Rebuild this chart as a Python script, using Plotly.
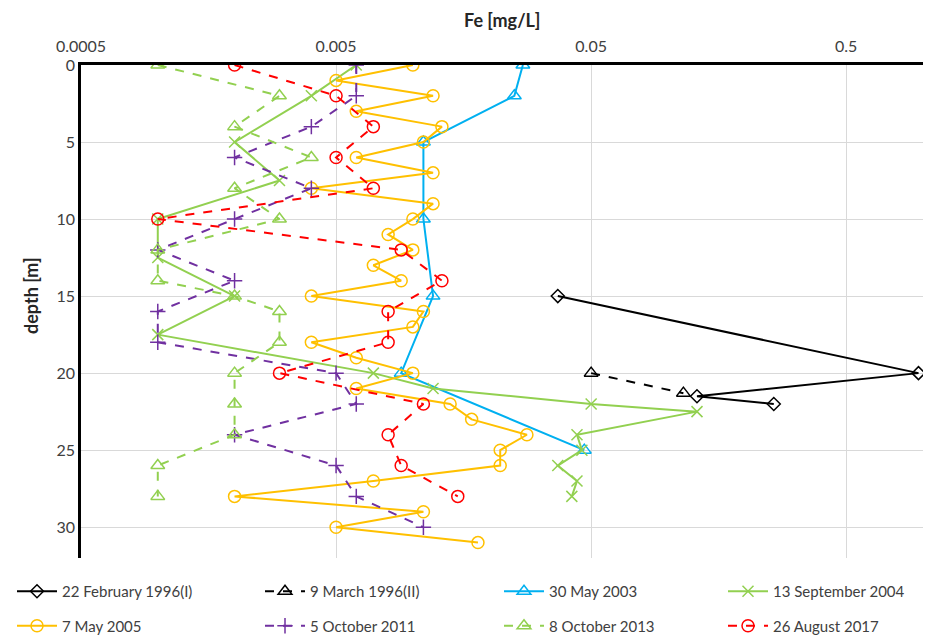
import plotly.graph_objects as go

# ---- data ----
feb1996_depth = [15, 20, 21.5, 22]
feb1996_fe = [0.037, 0.96, 0.13, 0.26]

mar1996_depth = [20, 21.3]
mar1996_fe = [0.05, 0.115]

may2003_depth = [0, 2, 5, 10, 15, 20, 25]
may2003_fe = [0.027, 0.025, 0.011, 0.011, 0.012, 0.009, 0.047]

sep2004_depth = [0, 2, 5, 7.5, 10, 12.5, 15, 17.5, 20, 21, 22, 22.5, 24, 25, 26, 27, 28]
sep2004_fe = [0.006, 0.004, 0.002, 0.003, 0.001, 0.001, 0.002, 0.001, 0.007, 0.012,
              0.05, 0.13, 0.044, 0.046, 0.037, 0.044, 0.042]

may2005_depth = list(range(0, 32))
may2005_fe = [0.01, 0.005, 0.012, 0.006, 0.013, 0.011, 0.006, 0.012, 0.004, 0.012,
              0.01, 0.008, 0.01, 0.007, 0.009, 0.004, 0.011, 0.01, 0.004, 0.006,
              0.01, 0.006, 0.014, 0.017, 0.028, 0.022, 0.022, 0.007, 0.002, 0.011,
              0.005, 0.018]

oct2011_depth = [0, 2, 4, 6, 8, 10, 12, 14, 16, 18, 20, 22, 24, 26, 28, 30]
oct2011_fe = [0.006, 0.006, 0.004, 0.002, 0.004, 0.002, 0.001, 0.002, 0.001, 0.001,
              0.005, 0.006, 0.002, 0.005, 0.006, 0.011]

oct2013_depth = [0, 2, 4, 6, 8, 10, 12, 14, 15, 16, 18, 20, 22, 24, 26, 28]
oct2013_fe = [0.001, 0.003, 0.002, 0.004, 0.002, 0.003, 0.001, 0.001, 0.002, 0.003,
              0.003, 0.002, 0.002, 0.002, 0.001, 0.001]

aug2017_depth = [0, 2, 4, 6, 8, 10, 12, 14, 16, 18, 20, 22, 24, 26, 28]
aug2017_fe = [0.002, 0.005, 0.007, 0.005, 0.007, 0.001, 0.009, 0.013, 0.008, 0.008,
              0.003, 0.011, 0.008, 0.009, 0.015]

x_ticks = [0.0005, 0.005, 0.05, 0.5]
x_tick_text = ["0.0005", "0.005", "0.05", "0.5"]
y_ticks = [0, 5, 10, 15, 20, 25, 30]

x_title = "Fe [mg/L]"
y_title = "depth [m]"

# (name, x, y, colour, dash, symbol, size, legend column)
series = [
    ("22 February 1996(I)", feb1996_fe, feb1996_depth, "#000000", "solid", "diamond-open", 10, "legend"),
    ("9 March 1996(II)", mar1996_fe, mar1996_depth, "#000000", "dash", "triangle-up-open", 12, "legend2"),
    ("30 May 2003", may2003_fe, may2003_depth, "#00B0F0", "solid", "triangle-up-open", 12, "legend3"),
    ("13 September 2004", sep2004_fe, sep2004_depth, "#92D050", "solid", "x-thin-open", 11, "legend4"),
    ("7 May 2005", may2005_fe, may2005_depth, "#FFC000", "solid", "circle-open", 12, "legend"),
    ("5 October 2011", oct2011_fe, oct2011_depth, "#7030A0", "dash", "cross-thin-open", 11, "legend2"),
    ("8 October 2013", oct2013_fe, oct2013_depth, "#92D050", "dash", "triangle-up-open", 12, "legend3"),
    ("26 August 2017", aug2017_fe, aug2017_depth, "#FF0000", "dash", "circle-open", 12, "legend4"),
]

fig = go.Figure()
for i, (name, fe, depth, color, dash, symbol, size, leg) in enumerate(series):
    fig.add_trace(go.Scatter(
        x=fe, y=depth, name=name, mode="lines+markers",
        legend=leg, legendgroup=f"g{i}",
        line=dict(color=color, width=2, dash=dash),
        marker=dict(symbol=symbol, size=size, color=color,
                    line=dict(color=color, width=1.5)),
    ))

font_family = "Lato, 'Open Sans', sans-serif"
legend_font = dict(size=15, color="#404040", family=font_family)
legend_common = dict(
    orientation="v", xref="container", yref="container",
    y=0.0945, xanchor="left", yanchor="top",
    font=legend_font, itemwidth=40, tracegroupgap=12,
    bgcolor="rgba(0,0,0,0)",
)
col_x = [12, 260, 499, 723]

fig.update_layout(
    width=942, height=635,
    paper_bgcolor="white", plot_bgcolor="white",
    margin=dict(l=81, r=19, t=65, b=77, autoexpand=False),
    font=dict(family=font_family, color="#404040", size=16),
    showlegend=True,
    legend=dict(x=col_x[0] / 942, **legend_common),
    legend2=dict(x=col_x[1] / 942, **legend_common),
    legend3=dict(x=col_x[2] / 942, **legend_common),
    legend4=dict(x=col_x[3] / 942, **legend_common),
    annotations=[
        dict(text=f"<b>{x_title}</b>", xref="paper", yref="paper",
             x=0.5, y=1.0913, xanchor="center", yanchor="middle",
             showarrow=False, font=dict(size=18, color="#262626", family=font_family)),
        dict(text=f"<b>{y_title}</b>", xref="paper", yref="paper",
             x=-0.0594, y=0.5335, xanchor="center", yanchor="middle", textangle=-90,
             showarrow=False, font=dict(size=18, color="#262626", family=font_family)),
    ],
)
fig.update_xaxes(
    type="log", side="top", automargin=False,
    range=[-3.30103, 0.0],
    tickvals=x_ticks, ticktext=x_tick_text,
    showgrid=True, gridcolor="#d9d9d9", gridwidth=1,
    showline=True, linecolor="black", linewidth=2.5,
    ticks="", zeroline=False, ticklabelstandoff=4,
    tickfont=dict(size=16, color="#404040"),
)
fig.update_yaxes(
    range=[32, 0], automargin=False,
    tickvals=y_ticks,
    showgrid=True, gridcolor="#d9d9d9", gridwidth=1,
    showline=True, linecolor="black", linewidth=2.5,
    ticks="", zeroline=False,
    tickfont=dict(size=16, color="#404040"),
)

fig.write_html("out.html", config={"displayModeBar": False},
               post_script="document.body.style.margin='0';")
